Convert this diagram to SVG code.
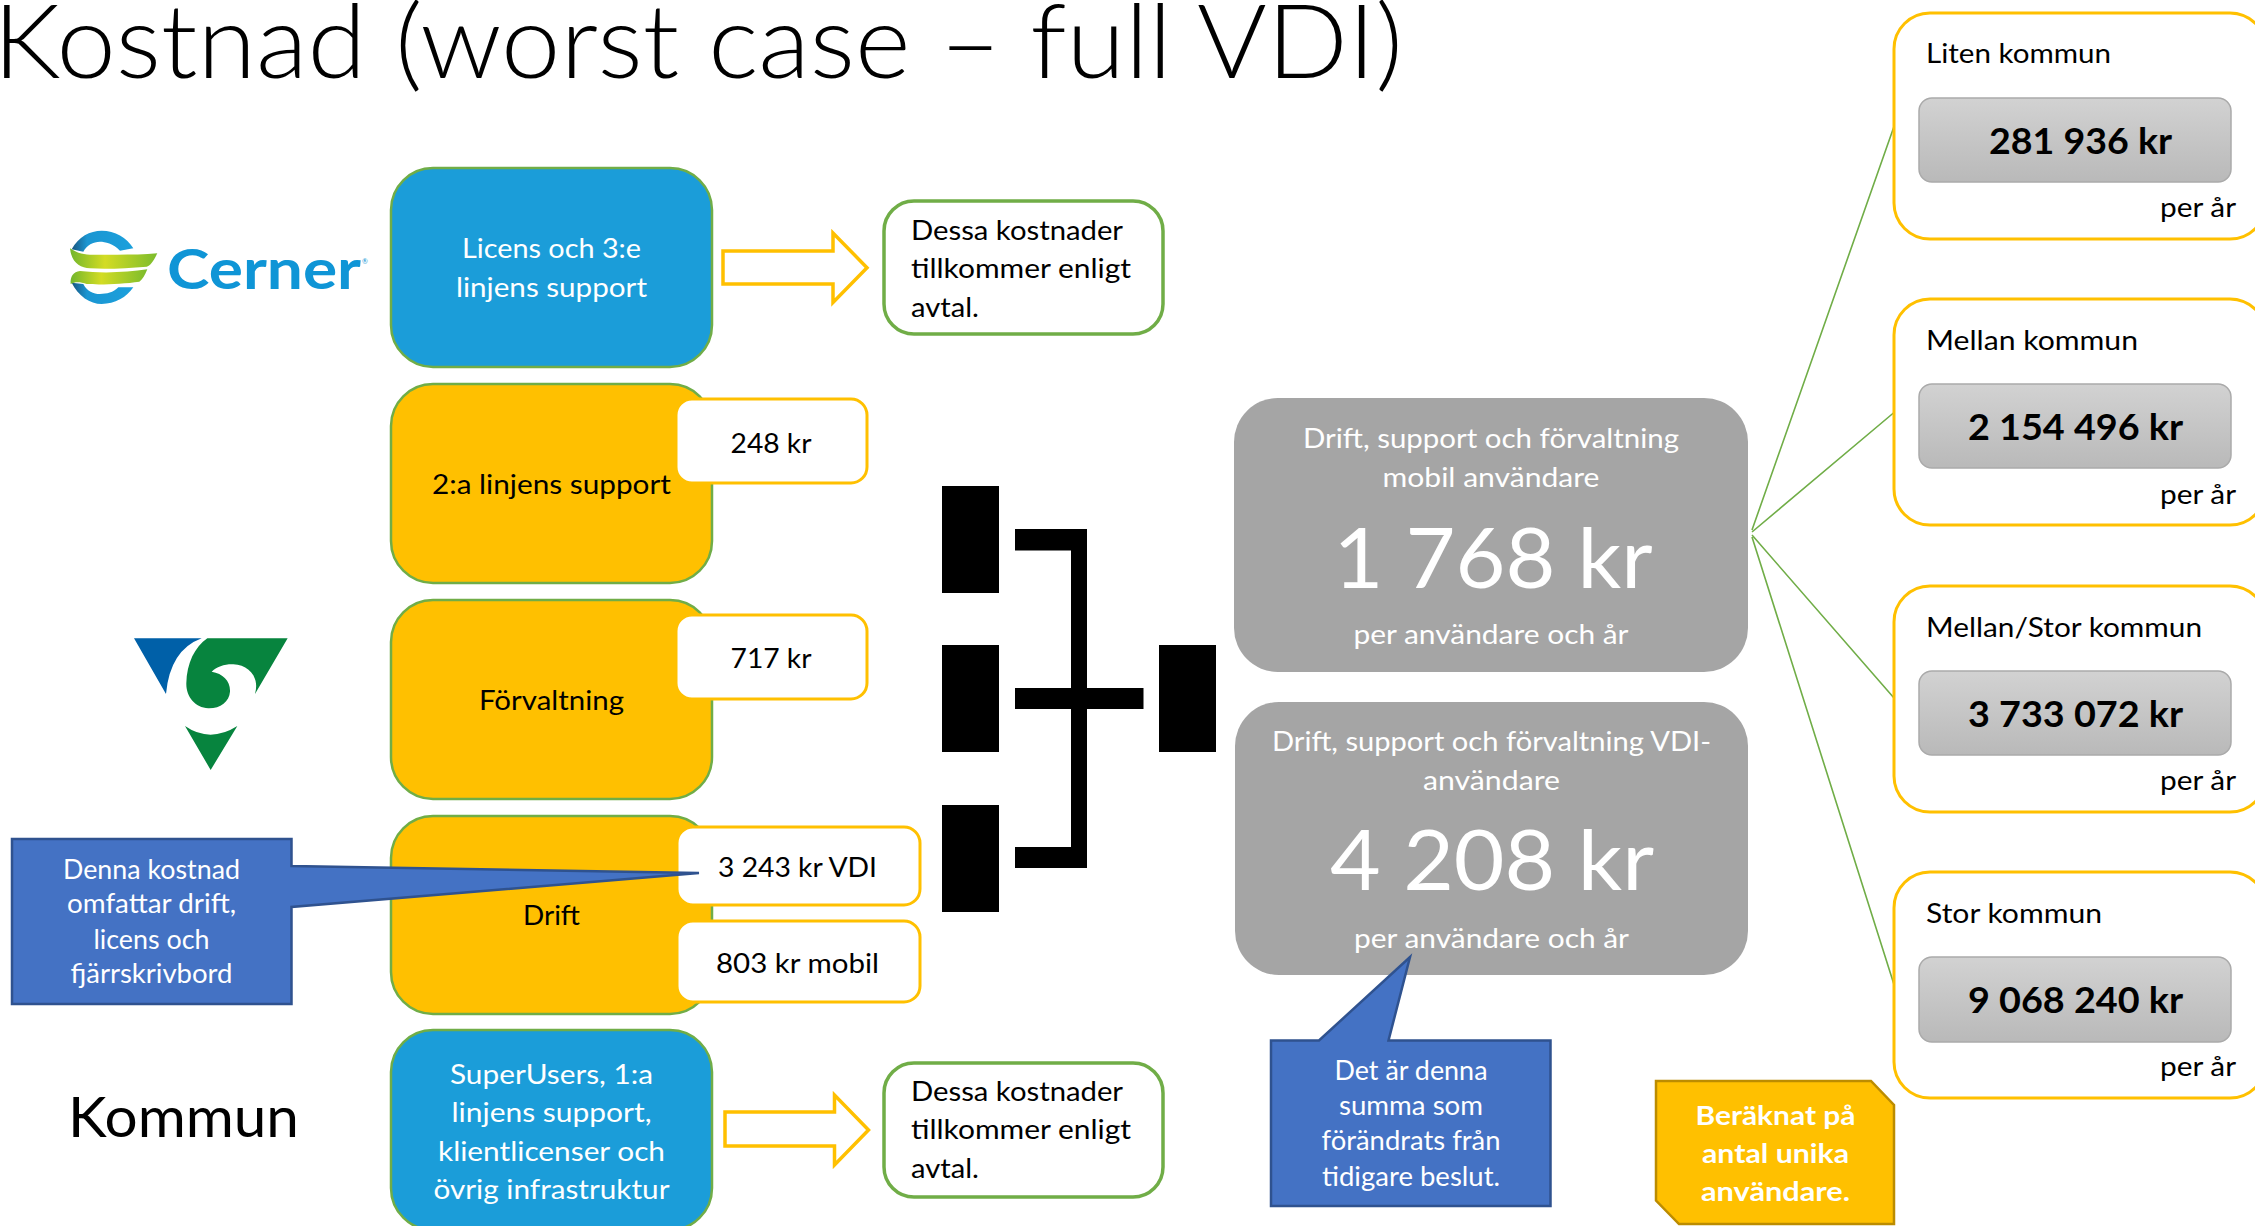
<svg xmlns="http://www.w3.org/2000/svg" width="2255" height="1226" viewBox="0 0 2255 1226">
<style>
text{font-family:"Lato","Carlito","Open Sans",sans-serif;font-size:27px;fill:#000}
.w{fill:#fff}.b{font-weight:700}.m{text-anchor:middle}
.blue{fill:#1b9dd9;stroke:#70ad47;stroke-width:2.5}
.yel{fill:#ffc000;stroke:#70ad47;stroke-width:2.5}
.val{fill:#fff;stroke:#ffc000;stroke-width:3}
.note{fill:#fff;stroke:#70ad47;stroke-width:3.5}
.arrow{fill:#fff;stroke:#ffc000;stroke-width:3.5}
.grey{fill:#a5a5a5}
.card{fill:#fff;stroke:#ffc000;stroke-width:3}
.btn{fill:url(#bg);stroke:#aaa;stroke-width:1.5}
.call{fill:#4472c4;stroke:#2f528f;stroke-width:2.5}
.lnk{stroke:#70ad47;stroke-width:1.6;fill:none}
.big{font-size:84px}
.vv{font-size:36px;font-weight:700}
</style>
<defs>
<linearGradient id="bg" x1="0" y1="0" x2="0" y2="1"><stop offset="0" stop-color="#d2d2d2"/><stop offset="1" stop-color="#b9b9b9"/></linearGradient>
<linearGradient id="gg" x1="0" y1="0" x2="1" y2="0"><stop offset="0" stop-color="#72b62c"/><stop offset=".4" stop-color="#d3dc24"/><stop offset="1" stop-color="#7cbc2c"/></linearGradient>
<linearGradient id="ba" x1="0" y1="0" x2="1" y2="0"><stop offset="0" stop-color="#19567f"/><stop offset=".25" stop-color="#1b96d2"/><stop offset="1" stop-color="#1ba0dc"/></linearGradient>
</defs>
<rect width="2255" height="1226" fill="#fff"/>
<text id="title" x="-7" y="78" font-size="103" style="font-size:103px;font-weight:300" textLength="1410" lengthAdjust="spacingAndGlyphs">Kostnad (worst case – full VDI)</text>

<g id="logo-cerner">
<g transform="translate(50 210) scale(.3333)">
<path fill="url(#ba)" d="M65 118C85 80 120 62 155 62C195 62 230 82 250 115L210 122C190 100 165 95 150 95C130 95 110 105 100 125Z"/>
<path fill="url(#ba)" d="M65 218C85 258 120 282 155 282C195 282 230 262 250 232L205 232C190 248 170 252 150 252C130 252 112 245 100 222Z"/>
<path fill="url(#gg)" d="M60 115C90 135 110 135 150 134C210 134 270 135 322 130C310 155 300 168 290 170C230 175 170 178 120 175C90 172 65 160 60 115Z"/>
<path fill="url(#gg)" d="M62 222C60 200 70 185 90 183C150 190 230 188 292 178C285 195 278 208 268 215C220 222 150 225 110 222C90 215 75 215 62 222Z"/>
</g>
<text x="167" y="289" style="font-size:56px;font-weight:700;fill:#0f95d6" textLength="194" lengthAdjust="spacingAndGlyphs">Cerner</text>
<text x="362" y="264" style="font-size:7px;fill:#0f95d6">®</text>
</g>

<g id="logo-region">
<g transform="translate(120 620) scale(.3333)">
<path fill="#0060a8" d="M42 55L245 55Q150 90 138 222Z"/>
<path fill="#07843e" d="M262 55L503 55L405 222C420 170 385 135 340 133C315 132 290 140 275 155C310 160 332 185 330 215C328 245 300 266 265 265C225 263 198 230 199 190C200 130 225 80 262 55Z"/>
<path fill="#07843e" d="M195 318Q270 370 352 318L272 450Z"/>
</g>
</g>
<text id="kommun" x="68" y="1137" style="font-size:56px" textLength="231" lengthAdjust="spacingAndGlyphs">Kommun</text>

<g id="connectors">
<path class="lnk" d="M1752 530L1894 126.5M1752 532L1894 412.5M1752 535L1894 698M1752 537L1894 984.5"/>
<path d="M1015 529H1087V868H1015V847H1071V709H1015V688H1071V550.5H1015Z"/>
<rect x="1087" y="688" width="56.500" height="21"/>
</g>

<g id="node-licens"><rect class="blue" x="391" y="168" width="321" height="199" rx="42"/>
<text class="w m" x="551.500" y="258" textLength="179" lengthAdjust="spacingAndGlyphs">Licens och 3:e</text>
<text class="w m" x="551.500" y="297" textLength="191" lengthAdjust="spacingAndGlyphs">linjens support</text></g>
<g id="arrow-top"><path class="arrow" d="M723 251H833V233L867 267.700L833 302.500V284H723Z"/></g>
<g id="note-top"><rect class="note" x="884" y="201" width="279" height="133" rx="30"/>
<text x="911" y="240" textLength="212" lengthAdjust="spacingAndGlyphs">Dessa kostnader</text>
<text x="911" y="278" textLength="220" lengthAdjust="spacingAndGlyphs">tillkommer enligt</text>
<text x="911" y="316.500" textLength="68" lengthAdjust="spacingAndGlyphs">avtal.</text></g>

<g id="node-support2"><rect class="yel" x="391" y="384" width="321" height="199" rx="42"/>
<rect class="val" x="676" y="399" width="191" height="84" rx="16"/>
<text x="432" y="494" textLength="239" lengthAdjust="spacingAndGlyphs">2:a linjens support</text>
<text x="730.500" y="452.500" textLength="81" lengthAdjust="spacingAndGlyphs">248 kr</text></g>

<g id="node-forvaltning"><rect class="yel" x="391" y="600" width="321" height="199" rx="42"/>
<rect class="val" x="676" y="615" width="191" height="84" rx="16"/>
<text x="479" y="710" textLength="145" lengthAdjust="spacingAndGlyphs">Förvaltning</text>
<text x="730.500" y="668" textLength="81" lengthAdjust="spacingAndGlyphs">717 kr</text></g>

<g id="node-drift"><rect class="yel" x="391" y="816" width="321" height="198" rx="42"/>
<rect class="val" x="677" y="827" width="243" height="78" rx="16"/>
<rect class="val" x="677" y="921" width="243" height="81" rx="16"/>
<text x="523" y="925" textLength="57" lengthAdjust="spacingAndGlyphs">Drift</text>
<text x="718" y="876.500" textLength="159" lengthAdjust="spacingAndGlyphs">3 243 kr VDI</text>
<text x="716" y="973" textLength="163" lengthAdjust="spacingAndGlyphs">803 kr mobil</text></g>

<g id="callout-drift"><path class="call" d="M12 839H291.500V866L699 873L291.500 907V1004H12Z"/>
<text class="w m" x="151.500" y="878.500" textLength="177" lengthAdjust="spacingAndGlyphs">Denna kostnad</text>
<text class="w m" x="151.500" y="913" textLength="169" lengthAdjust="spacingAndGlyphs">omfattar drift,</text>
<text class="w m" x="151.500" y="948.500" textLength="116" lengthAdjust="spacingAndGlyphs">licens och</text>
<text class="w m" x="151.500" y="983" textLength="162" lengthAdjust="spacingAndGlyphs">fjärrskrivbord</text></g>

<g id="node-superusers"><rect class="blue" x="391" y="1030" width="321" height="200" rx="42"/>
<text class="w m" x="551.500" y="1084" textLength="203" lengthAdjust="spacingAndGlyphs">SuperUsers, 1:a</text>
<text class="w m" x="551.500" y="1122" textLength="200" lengthAdjust="spacingAndGlyphs">linjens support,</text>
<text class="w m" x="551.500" y="1161" textLength="227" lengthAdjust="spacingAndGlyphs">klientlicenser och</text>
<text class="w m" x="551.500" y="1199" textLength="236" lengthAdjust="spacingAndGlyphs">övrig infrastruktur</text></g>
<g id="arrow-bottom"><path class="arrow" d="M725 1112H834.500V1095L868.500 1130L834.500 1165V1146H725Z"/></g>
<g id="note-bottom"><rect class="note" x="884" y="1063" width="279" height="134" rx="30"/>
<text x="911" y="1101" textLength="212" lengthAdjust="spacingAndGlyphs">Dessa kostnader</text>
<text x="911" y="1139" textLength="220" lengthAdjust="spacingAndGlyphs">tillkommer enligt</text>
<text x="911" y="1178" textLength="68" lengthAdjust="spacingAndGlyphs">avtal.</text></g>

<g id="blocks"><rect x="942" y="486" width="57" height="107"/><rect x="942" y="645" width="57" height="107"/><rect x="942" y="805" width="57" height="107"/><rect x="1159" y="645" width="57" height="107"/></g>

<g id="total-mobil"><rect class="grey" x="1234" y="398" width="514" height="274" rx="44"/>
<text class="w m" x="1491" y="448" textLength="376" lengthAdjust="spacingAndGlyphs">Drift, support och förvaltning</text>
<text class="w m" x="1491" y="487" textLength="217" lengthAdjust="spacingAndGlyphs">mobil användare</text>
<text class="w m big" x="1493" y="587.500" textLength="319" lengthAdjust="spacingAndGlyphs">1 768 kr</text>
<text class="w m" x="1491" y="644" textLength="275" lengthAdjust="spacingAndGlyphs">per användare och år</text></g>

<g id="total-vdi"><rect class="grey" x="1235" y="702" width="513" height="273" rx="44"/>
<text class="w m" x="1491.500" y="751" textLength="439" lengthAdjust="spacingAndGlyphs">Drift, support och förvaltning VDI-</text>
<text class="w m" x="1491.500" y="789.500" textLength="137" lengthAdjust="spacingAndGlyphs">användare</text>
<text class="w m big" x="1492" y="890" textLength="324" lengthAdjust="spacingAndGlyphs">4 208 kr</text>
<text class="w m" x="1491.500" y="948" textLength="275" lengthAdjust="spacingAndGlyphs">per användare och år</text></g>

<g id="callout-summa"><path class="call" d="M1271 1040.500H1319L1410 957L1388.500 1040.500H1550.500V1206H1271Z"/>
<text class="w m" x="1411" y="1080" textLength="153" lengthAdjust="spacingAndGlyphs">Det är denna</text>
<text class="w m" x="1411" y="1115" textLength="144" lengthAdjust="spacingAndGlyphs">summa som</text>
<text class="w m" x="1411" y="1150" textLength="179" lengthAdjust="spacingAndGlyphs">förändrats från</text>
<text class="w m" x="1411" y="1185.500" textLength="178" lengthAdjust="spacingAndGlyphs">tidigare beslut.</text></g>

<g id="note-unika"><path d="M1656 1081H1871L1894 1105V1224H1679L1656 1200.500Z" fill="#ffc000" stroke="#bc8c00" stroke-width="2.500"/>
<text class="w m b" x="1775.500" y="1125" textLength="160" lengthAdjust="spacingAndGlyphs">Beräknat på</text>
<text class="w m b" x="1775.500" y="1163" textLength="147" lengthAdjust="spacingAndGlyphs">antal unika</text>
<text class="w m b" x="1775.500" y="1201" textLength="149" lengthAdjust="spacingAndGlyphs">användare.</text></g>

<g id="card-liten"><rect class="card" x="1894" y="13" width="372" height="226" rx="36"/>
<rect class="btn" x="1919" y="98" width="312" height="84" rx="13"/>
<text x="1926" y="62.500" textLength="185" lengthAdjust="spacingAndGlyphs">Liten kommun</text>
<text class="vv m" x="2080.500" y="153.500" textLength="183" lengthAdjust="spacingAndGlyphs">281 936 kr</text>
<text x="2160" y="216.500" textLength="76" lengthAdjust="spacingAndGlyphs">per år</text></g>

<g id="card-mellan"><rect class="card" x="1894" y="299" width="372" height="226" rx="36"/>
<rect class="btn" x="1919" y="384" width="312" height="84" rx="13"/>
<text x="1926" y="349.500" textLength="212" lengthAdjust="spacingAndGlyphs">Mellan kommun</text>
<text class="vv m" x="2075.500" y="440" textLength="215" lengthAdjust="spacingAndGlyphs">2 154 496 kr</text>
<text x="2160" y="504" textLength="76" lengthAdjust="spacingAndGlyphs">per år</text></g>

<g id="card-mellanstor"><rect class="card" x="1894" y="586" width="372" height="226" rx="36"/>
<rect class="btn" x="1919" y="671" width="312" height="84" rx="13"/>
<text x="1926" y="636.500" textLength="276" lengthAdjust="spacingAndGlyphs">Mellan/Stor kommun</text>
<text class="vv m" x="2075.500" y="727" textLength="215" lengthAdjust="spacingAndGlyphs">3 733 072 kr</text>
<text x="2160" y="789.500" textLength="76" lengthAdjust="spacingAndGlyphs">per år</text></g>

<g id="card-stor"><rect class="card" x="1894" y="872" width="372" height="226" rx="36"/>
<rect class="btn" x="1919" y="957" width="312" height="85" rx="13"/>
<text x="1926" y="922.500" textLength="176" lengthAdjust="spacingAndGlyphs">Stor kommun</text>
<text class="vv m" x="2075.500" y="1013" textLength="215" lengthAdjust="spacingAndGlyphs">9 068 240 kr</text>
<text x="2160" y="1076" textLength="76" lengthAdjust="spacingAndGlyphs">per år</text></g>
</svg>
